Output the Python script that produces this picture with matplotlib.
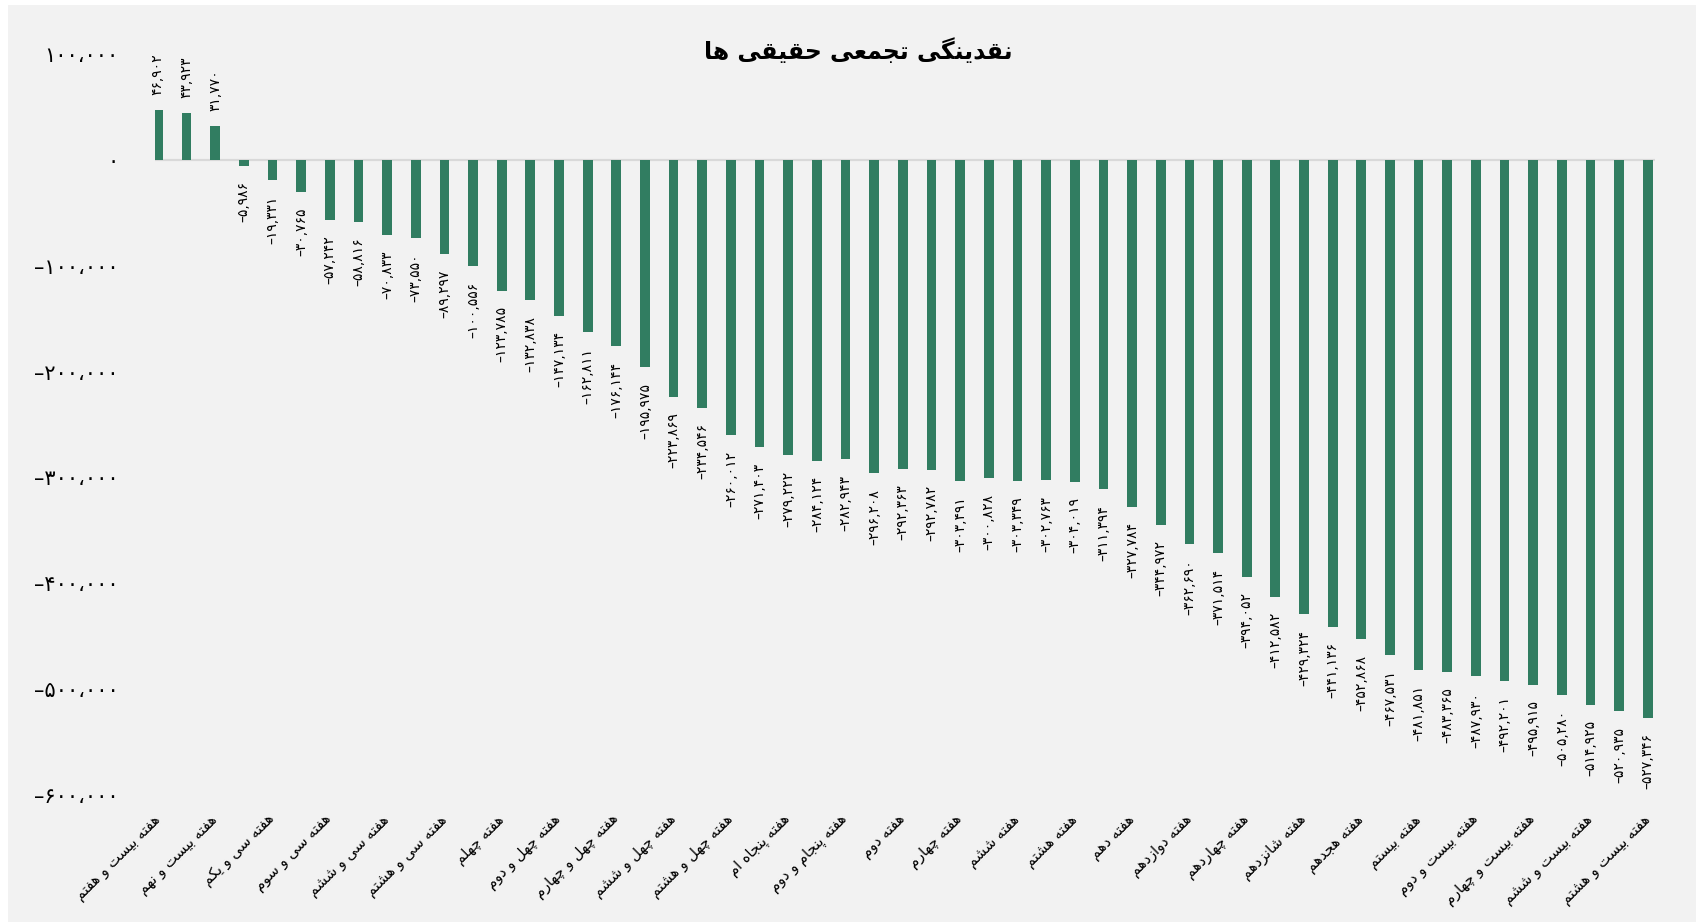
import matplotlib
matplotlib.use("Agg")
import matplotlib.pyplot as plt
from matplotlib.patches import Rectangle

# cumulative net flow of individual investors, one bar per week
values = [46902, 43923, 31770, -5986, -19331, -30765, -57242, -58816, -70833,
          -73550, -89297, -100556, -123785, -132838, -147134, -162811, -176144,
          -195975, -223869, -234546, -260012, -271403, -279222, -284124, -282943,
          -296208, -292363, -292782, -303491, -300828, -303349, -302763, -304019,
          -311394, -327784, -344972, -362690, -371514, -394052, -412582, -429324,
          -441136, -452868, -467531, -481851, -483365, -487930, -492201, -495915,
          -505280, -514925, -520935, -527346]

# category labels (only every other week is labelled on the axis)
week_labels = ["هفته بیست و هفتم", "هفته بیست و نهم", "هفته سی و یکم", "هفته سی و سوم",
               "هفته سی و ششم", "هفته سی و هشتم", "هفته چهلم", "هفته چهل و دوم",
               "هفته چهل و چهارم", "هفته چهل و ششم", "هفته چهل و هشتم", "هفته پنجاه ام",
               "هفته پنجام و دوم", "هفته دوم", "هفته چهارم", "هفته ششم", "هفته هشتم",
               "هفته دهم", "هفته دوازدهم", "هفته چهاردهم", "هفته شانزدهم", "هفته هجدهم",
               "هفته بیستم", "هفته بیست و دوم", "هفته بیست و چهارم", "هفته بیست و ششم",
               "هفته بیست و هشتم"]

title = "نقدینگی تجمعی حقیقی ها"
y_ticks = [100000, 0, -100000, -200000, -300000, -400000, -500000, -600000]

# --- minimal persian shaping (matplotlib has no RTL layout) ---
FORMS = {
    'ا': ('\uFE8D', '\uFE8E', None, None),
    'ب': ('\uFE8F', '\uFE90', '\uFE91', '\uFE92'),
    'پ': ('\uFB56', '\uFB57', '\uFB58', '\uFB59'),
    'ت': ('\uFE95', '\uFE96', '\uFE97', '\uFE98'),
    'ج': ('\uFE9D', '\uFE9E', '\uFE9F', '\uFEA0'),
    'چ': ('\uFB7A', '\uFB7B', '\uFB7C', '\uFB7D'),
    'ح': ('\uFEA1', '\uFEA2', '\uFEA3', '\uFEA4'),
    'د': ('\uFEA9', '\uFEAA', None, None),
    'ر': ('\uFEAD', '\uFEAE', None, None),
    'ز': ('\uFEAF', '\uFEB0', None, None),
    'س': ('\uFEB1', '\uFEB2', '\uFEB3', '\uFEB4'),
    'ش': ('\uFEB5', '\uFEB6', '\uFEB7', '\uFEB8'),
    'ع': ('\uFEC9', '\uFECA', '\uFECB', '\uFECC'),
    'ف': ('\uFED1', '\uFED2', '\uFED3', '\uFED4'),
    'ق': ('\uFED5', '\uFED6', '\uFED7', '\uFED8'),
    'ک': ('\uFB8E', '\uFB8F', '\uFB90', '\uFB91'),
    'گ': ('\uFB92', '\uFB93', '\uFB94', '\uFB95'),
    'ل': ('\uFEDD', '\uFEDE', '\uFEDF', '\uFEE0'),
    'م': ('\uFEE1', '\uFEE2', '\uFEE3', '\uFEE4'),
    'ن': ('\uFEE5', '\uFEE6', '\uFEE7', '\uFEE8'),
    'ه': ('\uFEE9', '\uFEEA', '\uFEEB', '\uFEEC'),
    'و': ('\uFEED', '\uFEEE', None, None),
    'ی': ('\uFBFC', '\uFBFD', '\uFBFE', '\uFBFF'),
}


def fa(text):
    text = text.replace('ي', 'ی').replace('ك', 'ک')
    out = []
    for i, c in enumerate(text):
        if c not in FORMS:
            out.append(c)
            continue
        prev = text[i - 1] if i > 0 else None
        nxt = text[i + 1] if i + 1 < len(text) else None
        join_prev = prev in FORMS and FORMS[prev][2] is not None
        join_next = nxt in FORMS and FORMS[c][2] is not None
        iso, fin, ini, med = FORMS[c]
        if join_prev and join_next:
            out.append(med)
        elif join_prev:
            out.append(fin)
        elif join_next:
            out.append(ini)
        else:
            out.append(iso)
    return ''.join(reversed(out))


FA_DIGITS = str.maketrans('0123456789', '۰۱۲۳۴۵۶۷۸۹')


def fa_num(v, sep=','):
    s = f"{abs(v):,}".replace(',', sep).translate(FA_DIGITS)
    return ('–' + s) if v < 0 else s


plt.rcParams['font.family'] = ['DejaVu Sans']

BAR = '#317d61'
BG = '#f2f2f2'

fig = plt.figure(figsize=(16.96, 9.22), dpi=100, facecolor='white')
fig.patches.append(Rectangle((8 / 1696, 0), 1, 1 - 5 / 922, transform=fig.transFigure,
                             facecolor=BG, edgecolor='none', zorder=-10))
ax = fig.add_axes([155 / 1696, 1 - 795 / 922, 1500 / 1696, (795 - 54) / 922])
ax.set_facecolor('none')

x = list(range(len(values)))
ax.bar(x, values, width=0.34, color=BAR, zorder=3)
ax.axhline(0, color='#d9d9d9', lw=1.6, zorder=2)

for xi, v in zip(x, values):
    ax.annotate(fa_num(v), (xi, v), xytext=(0, 11 if v > 0 else -11),
                textcoords='offset points', rotation=90, ha='center',
                va='bottom' if v > 0 else 'top', fontsize=10, color='black',
                annotation_clip=False)

ax.set_xlim(-0.1, 52.25)
ax.set_ylim(-600000, 100000)

ax.set_yticks(y_ticks)
ax.set_yticklabels([fa_num(t, sep='،') for t in y_ticks], fontsize=15)
ax.set_xticks(x[::2])
ax.set_xticklabels([fa(w) for w in week_labels], rotation=45, ha='right',
                   va='center', rotation_mode='anchor', fontsize=10.5)
ax.tick_params(axis='y', length=0, pad=26)
ax.tick_params(axis='x', length=0, pad=16)
for s in ax.spines.values():
    s.set_visible(False)

fig.text(858 / 1696, 1 - 51 / 922, fa(title), ha='center', va='center',
         fontsize=17, fontweight='bold')

plt.savefig('out.png', dpi=100, facecolor=fig.get_facecolor())
